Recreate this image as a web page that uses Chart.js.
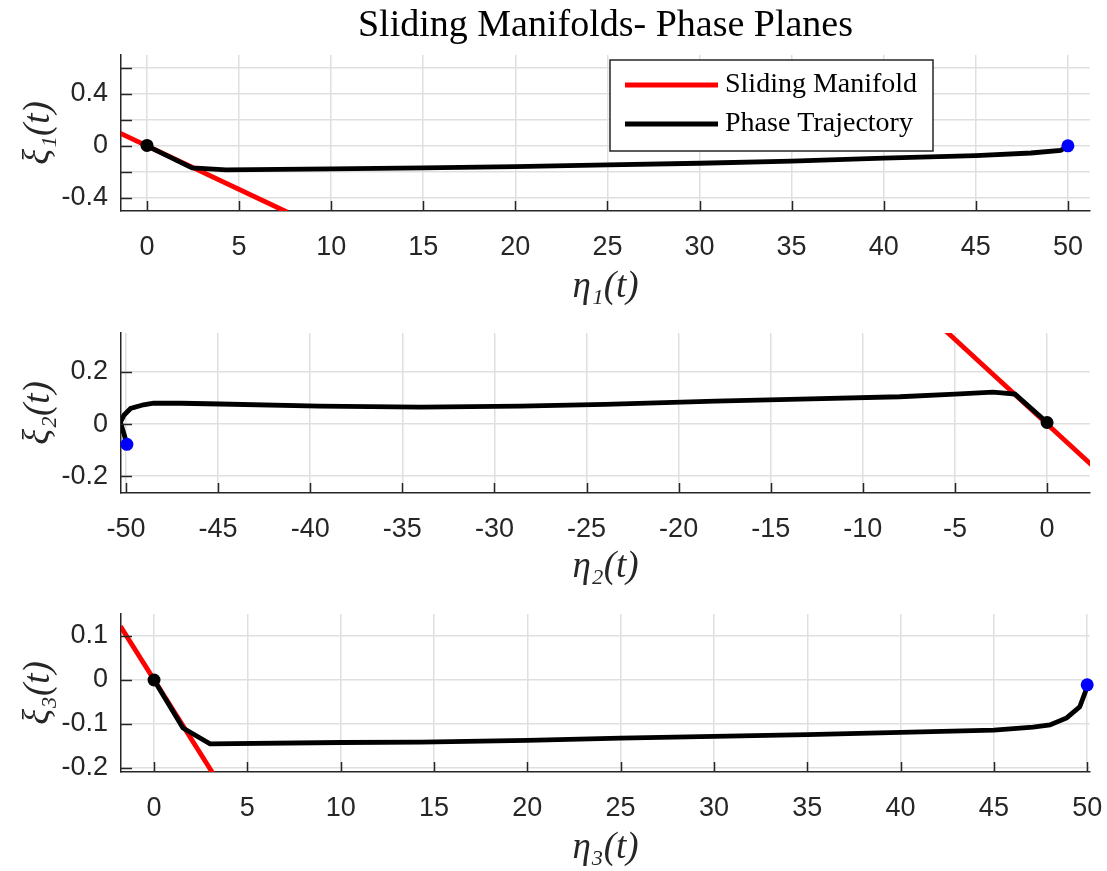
<!DOCTYPE html>
<html>
<head>
<meta charset="utf-8">
<script src="https://cdn.jsdelivr.net/npm/chart.js@4.4.1/dist/chart.umd.min.js"></script>
<style>
  body { margin: 0; background: #fff; }
  canvas { position: absolute; left: 0; }
</style>
</head>
<body>
<canvas id="phase1" width="1107" height="310" style="top:0px"></canvas>
<canvas id="phase2" width="1107" height="290" style="top:300px"></canvas>
<canvas id="phase3" width="1107" height="291" style="top:580px"></canvas>
<script>
// eta / xi phase trajectories
const eta1 = [0, 2.45, 4.3, 10, 15, 20, 25, 30, 35, 40, 45, 48, 49.6, 50];
const xi1 = [0, -0.17, -0.185, -0.177, -0.17, -0.16, -0.147, -0.134, -0.118, -0.095, -0.075, -0.055, -0.035, -0.005];

const eta2 = [0, -1.74, -2.93, -5, -8, -13.4, -18, -24, -28.6, -34, -39.5, -44.9, -47, -48.5, -49.05, -49.75, -50.1, -50.3, -50.1, -49.95];
const xi2 = [0.006, 0.115, 0.123, 0.115, 0.105, 0.096, 0.088, 0.076, 0.069, 0.065, 0.069, 0.077, 0.08, 0.08, 0.074, 0.06, 0.035, 0.007, -0.04, -0.078];

const eta3 = [0, 1.55, 3.0, 10, 14.3, 20, 25, 30, 35, 40, 45, 47.1, 48.0, 48.9, 49.6, 49.9, 50];
const xi3 = [0, -0.109, -0.145, -0.142, -0.141, -0.137, -0.132, -0.128, -0.124, -0.119, -0.114, -0.107, -0.102, -0.086, -0.061, -0.027, -0.011];

// sliding manifold segments (end points)
const man1Eta = [-1.5, 7.6];
const man1Xi = [0.1, -0.51];
const man2Eta = [-5.5, 2.5];
const man2Xi = [0.358, -0.163];
const man3Eta = [-1.8, 3.3];
const man3Xi = [0.122, -0.222];

// start (black) and end (blue) markers
const start1 = [0, 0.003];
const end1 = [50, 0.0];
const start2 = [0, 0.006];
const end2 = [-49.95, -0.078];
const start3 = [0, 0];
const end3 = [50, -0.011];

// axis ranges
const xRange1 = [-1.41, 51.2];
const yRange1 = [-0.502, 0.7];
const xRange2 = [-50.27, 2.33];
const yRange2 = [-0.265, 0.35];
const xRange3 = [-1.77, 50.15];
const yRange3 = [-0.209, 0.15];

const titleText = 'Sliding Manifolds- Phase Planes';
const legendLabels = ['Sliding Manifold', 'Phase Trajectory'];

const axisColor = '#262626';
const gridColor = '#dfdfdf';
const tickFont = { family: 'Liberation Sans, Arial, sans-serif', size: 27 };
const mathFont = { family: 'Liberation Serif, Times New Roman, serif', size: 37, style: 'italic' };

function pts(xs, ys) {
  return xs.map(function (x, i) { return { x: x, y: ys[i] }; });
}

// inward tick marks like matlab
const innerTicks = {
  id: 'innerTicks',
  afterDraw: function (chart) {
    const ctx = chart.ctx;
    const a = chart.chartArea;
    const xs = chart.scales.x, ys = chart.scales.y;
    ctx.save();
    ctx.strokeStyle = axisColor;
    ctx.lineWidth = 1.5;
    ctx.beginPath();
    xs.ticks.forEach(function (t) {
      const px = Math.round(xs.getPixelForValue(t.value)) + 0.5;
      ctx.moveTo(px, a.bottom);
      ctx.lineTo(px, a.bottom - 10);
    });
    ys.ticks.forEach(function (t) {
      const py = Math.round(ys.getPixelForValue(t.value)) + 0.5;
      ctx.moveTo(a.left, py);
      ctx.lineTo(a.left + 11, py);
    });
    ctx.stroke();
    ctx.restore();
  }
};

// title centred on the axes, plus boxed legend inside the first axes
const boxLegend = {
  id: 'boxLegend',
  afterDraw: function (chart, args, opts) {
    if (!opts.show) return;
    const ctx = chart.ctx;
    const a = chart.chartArea;
    ctx.save();
    ctx.fillStyle = '#000';
    ctx.font = '38px Liberation Serif, Times New Roman, serif';
    ctx.textAlign = 'center';
    ctx.textBaseline = 'middle';
    ctx.fillText(titleText, (a.left + a.right) / 2, 26);

    const x0 = a.right - 480, y0 = a.top + 5, w = 323, h = 91;
    ctx.fillStyle = '#fff';
    ctx.fillRect(x0, y0, w, h);
    ctx.strokeStyle = axisColor;
    ctx.lineWidth = 1.5;
    ctx.strokeRect(x0, y0, w, h);
    const colors = ['#ff0000', '#000000'];
    ctx.font = '28px Liberation Serif, Times New Roman, serif';
    ctx.textAlign = 'left';
    legendLabels.forEach(function (lab, i) {
      const yy = y0 + 25 + i * 39;
      ctx.strokeStyle = colors[i];
      ctx.lineWidth = 5;
      ctx.beginPath();
      ctx.moveTo(x0 + 15, yy);
      ctx.lineTo(x0 + 108, yy);
      ctx.stroke();
      ctx.fillStyle = '#000';
      ctx.fillText(lab, x0 + 115, yy);
    });
    ctx.restore();
  }
};

function tickLabel(step) {
  return function (value) {
    const r = value / step;
    if (Math.abs(r - Math.round(r)) > 1e-6) return '';
    if (Math.abs(value) < 1e-9) return '0';
    return Number.isInteger(value) ? String(value) : value.toFixed(1);
  };
}

function makePhase(id, opt) {
  const datasets = [
    {
      data: [{ x: opt.start[0], y: opt.start[1] }],
      showLine: false, pointRadius: 6.5, pointBackgroundColor: '#000', pointBorderWidth: 0, clip: false
    },
    {
      data: [{ x: opt.end[0], y: opt.end[1] }],
      showLine: false, pointRadius: 6.5, pointBackgroundColor: '#0000ff', pointBorderWidth: 0, clip: false
    },
    {
      label: 'Phase Trajectory',
      data: pts(opt.eta, opt.xi),
      showLine: true, borderColor: '#000', borderWidth: 4.8, pointRadius: 0, tension: 0
    },
    {
      label: 'Sliding Manifold',
      data: pts(opt.manEta, opt.manXi),
      showLine: true, borderColor: '#ff0000', borderWidth: 4.8, pointRadius: 0, tension: 0
    }
  ];

  return new Chart(document.getElementById(id), {
    type: 'scatter',
    data: { datasets: datasets },
    options: {
      responsive: false,
      animation: false,
      devicePixelRatio: 1,
      layout: { padding: { left: 0, right: 17, top: opt.top, bottom: 0 } },
      plugins: {
        legend: { display: false },
        tooltip: { enabled: false },
        boxLegend: { show: !!opt.legend }
      },
      scales: {
        x: {
          type: 'linear',
          min: opt.xRange[0],
          max: opt.xRange[1],
          afterFit: function (s) { s.height = opt.xAxisH; s.paddingLeft = 0; s.paddingRight = 0; },
          grid: { color: gridColor, lineWidth: 1.5, drawTicks: false },
          border: { display: true, color: axisColor, width: 1.5 },
          ticks: { stepSize: 5, includeBounds: false, autoSkip: false, color: axisColor, font: tickFont, padding: 20, maxRotation: 0, callback: tickLabel(5) },
          title: { display: true, text: opt.xTitle, color: axisColor, font: mathFont, padding: { top: 0, bottom: 1 } }
        },
        y: {
          type: 'linear',
          min: opt.yRange[0],
          max: opt.yRange[1],
          afterFit: function (s) { s.width = 121; s.paddingTop = 0; s.paddingBottom = 0; },
          grid: { color: gridColor, lineWidth: 1.5, drawTicks: false },
          border: { display: true, color: axisColor, width: 1.5 },
          ticks: { stepSize: opt.yStep, includeBounds: false, autoSkip: false, color: axisColor, font: tickFont, padding: 13, callback: tickLabel(opt.yLabelStep) },
          title: { display: true, text: opt.yTitle, color: axisColor, font: mathFont, padding: { top: 17, bottom: 0 } }
        }
      }
    },
    plugins: [innerTicks, boxLegend]
  });
}

makePhase('phase1', {
  legend: true, top: 55, xAxisH: 99,
  eta: eta1, xi: xi1, manEta: man1Eta, manXi: man1Xi, start: start1, end: end1,
  xRange: xRange1, yRange: yRange1, yStep: 0.2, yLabelStep: 0.4,
  xTitle: 'η₁(t)', yTitle: 'ξ₁(t)'
});
makePhase('phase2', {
  top: 33, xAxisH: 97,
  eta: eta2, xi: xi2, manEta: man2Eta, manXi: man2Xi, start: start2, end: end2,
  xRange: xRange2, yRange: yRange2, yStep: 0.2, yLabelStep: 0.2,
  xTitle: 'η₂(t)', yTitle: 'ξ₂(t)'
});
makePhase('phase3', {
  top: 34, xAxisH: 99,
  eta: eta3, xi: xi3, manEta: man3Eta, manXi: man3Xi, start: start3, end: end3,
  xRange: xRange3, yRange: yRange3, yStep: 0.1, yLabelStep: 0.1,
  xTitle: 'η₃(t)', yTitle: 'ξ₃(t)'
});
</script>
</body>
</html>
